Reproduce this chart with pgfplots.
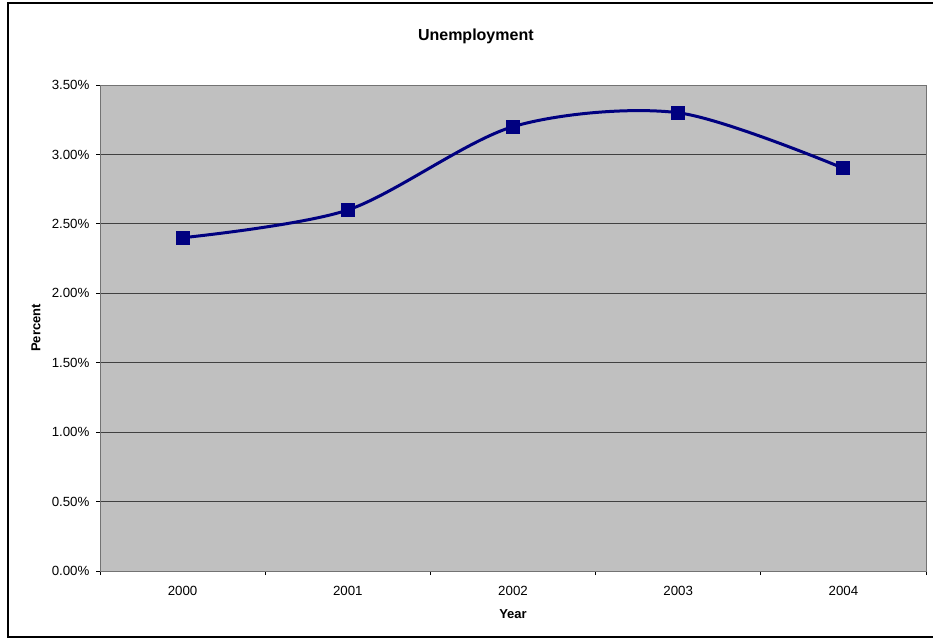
\documentclass[border=0pt]{standalone}
\usepackage{pgfplots}
\pgfplotsset{compat=1.18}
\usepackage{fontspec}
\setmainfont{Liberation Sans}
\definecolor{plotgray}{HTML}{C0C0C0}
\definecolor{navyline}{HTML}{000080}
\begin{document}
\begin{tikzpicture}[x=1pt,y=1pt]
\useasboundingbox (0,0) rectangle (933,640);
\begin{scope}
\clip (0,0) rectangle (933,640);
\draw[line width=2.2pt,black] (8,3) rectangle (945,637);
\end{scope}
\begin{axis}[
  at={(100pt,69pt)}, anchor=south west,
  scale only axis, width=826pt, height=486pt,
  xmin=-0.5, xmax=4.5, ymin=0, ymax=3.5,
  axis background/.style={fill=plotgray},
  axis line style={black!55, line width=0.9pt},
  xtick={0,1,2,3,4},
  xticklabels={2000,2001,2002,2003,2004},
  minor xtick={-0.5,0.5,1.5,2.5,3.5,4.5},
  major tick length=0pt,
  minor tick length=4pt,
  xtick pos=bottom, ytick pos=left,
  ytick={0,0.5,1,1.5,2,2.5,3,3.5},
  yticklabels={0.00\%,0.50\%,1.00\%,1.50\%,2.00\%,2.50\%,3.00\%,3.50\%},
  extra y ticks={0,0.5,1,1.5,2,2.5,3,3.5},
  extra y tick labels={},
  extra y tick style={major tick length=4pt, tick align=outside, grid=none},
  tick align=outside,
  tick style={black, line width=0.8pt},
  ymajorgrids,
  major grid style={black!75, line width=0.9pt},
  tick label style={font=\fontsize{13.3}{16}\selectfont},
  xticklabel style={yshift=-12pt},
  yticklabel style={xshift=-7pt},
  title={\textbf{Unemployment}},
  title style={font=\fontsize{16}{19}\selectfont, at={(axis description cs:0.455,1.087)}, anchor=center},
  xlabel={\textbf{Year}},
  xlabel style={font=\fontsize{13}{15}\selectfont, at={(axis description cs:0.5,-0.0885)}, anchor=center},
  ylabel={\textbf{Percent}},
  ylabel style={font=\fontsize{13}{15}\selectfont, at={(axis description cs:-0.0775,0.5)}, anchor=center, rotate=0},
  clip=false,
]
\addplot[navyline, line width=3pt, smooth, tension=0.5, mark=square*, mark size=6.5pt, mark options={solid, fill=navyline, line width=0pt}]
  coordinates {(0,2.4) (1,2.6) (2,3.2) (3,3.3) (4,2.9)};
\end{axis}
\end{tikzpicture}
\end{document}
